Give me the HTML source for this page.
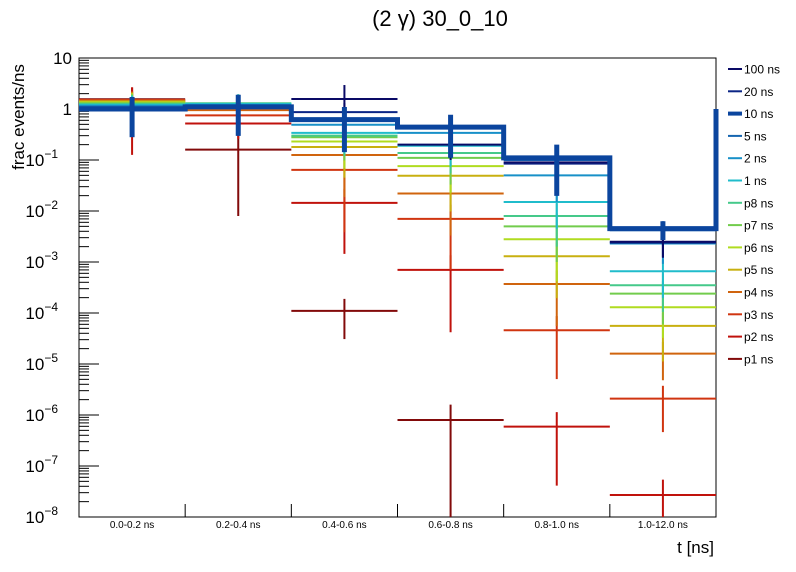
<!DOCTYPE html>
<html><head><meta charset="utf-8"><style>
body{margin:0;background:#fff;font-family:"Liberation Sans",sans-serif}
svg{display:block}
</style></head><body>
<svg id="chart" width="796" height="572" xmlns="http://www.w3.org/2000/svg">
<text x="440" y="26" font-size="22" text-anchor="middle">(2 γ) 30_0_10</text>
<text transform="translate(24,117) rotate(-90)" font-size="17" text-anchor="middle">frac events/ns</text>
<text x="714" y="553" font-size="17" text-anchor="end">t [ns]</text>
<g id="plot"></g>
</svg>
<script>
const categories = ["0.0-0.2 ns","0.2-0.4 ns","0.4-0.6 ns","0.6-0.8 ns","0.8-1.0 ns","1.0-12.0 ns"];
const seriesNames = ["100 ns","20 ns","10 ns","5 ns","2 ns","1 ns","p8 ns","p7 ns","p6 ns","p5 ns","p4 ns","p3 ns","p2 ns","p1 ns"];
const yTickExp = [1,0,-1,-2,-3,-4,-5,-6,-7,-8];
const v100 = [0.95,1.1,1.57,0.2,0.09,0.0025];
const v20 = [1.0,1.1,0.87,0.42,0.085,0.0024];
const v10 = [1.0,1.1,0.62,0.44,0.11,0.0045];
const v5 = [1.1,1.15,0.6,0.42,0.1,0.0042];
const v2 = [1.15,1.2,0.49,0.34,0.05,0.0023];
const v1 = [1.2,1.25,0.34,0.19,0.015,6.6e-4];
const vp8 = [1.25,1.3,0.3,0.137,0.008,3.5e-4];
const vp7 = [1.3,1.25,0.28,0.11,0.005,2.4e-4];
const vp6 = [1.35,1.2,0.23,0.076,0.0028,1.3e-4];
const vp5 = [1.4,1.1,0.18,0.049,0.0013,5.6e-5];
const vp4 = [1.45,0.95,0.125,0.022,3.7e-4,1.6e-5];
const vp3 = [1.5,0.75,0.064,0.007,4.6e-5,2.1e-6];
const vp2 = [1.4,0.52,0.0144,7e-4,5.9e-7,2.7e-8];
const vp1 = [1.55,0.16,1.1e-4,8e-7,null,null];
const r100 = [0.5,0.5,0.88,0.5,0.5,0.5];
const r20 = [0.5,0.5,0.5,0.5,0.5,0.5];
const r10 = [0.72,0.73,0.77,0.75,0.82,0.4];
const r5 = [0.5,0.5,0.6,0.6,0.6,0.5];
const r2 = [0.5,0.5,0.6,0.6,0.7,0.6];
const r1 = [0.5,0.55,0.6,0.6,0.7,0.7];
const rp8 = [0.5,0.5,0.6,0.6,0.75,0.7];
const rp7 = [0.5,0.5,0.65,0.7,0.8,0.75];
const rp6 = [0.5,0.5,0.7,0.7,0.85,0.75];
const rp5 = [0.5,0.5,0.75,0.8,0.85,0.8];
const rp4 = [0.5,0.5,0.85,0.85,0.85,0.7];
const rp3 = [0.5,0.5,0.94,0.9,0.89,0.78];
const rp2 = [0.91,0.5,0.9,0.94,0.93,1.0];
const rp1 = [0.7,0.95,0.72,1.0,0,0];
const overflow10 = 1.0;
const values = [v100,v20,v10,v5,v2,v1,vp8,vp7,vp6,vp5,vp4,vp3,vp2,vp1];
const relErr = [r100,r20,r10,r5,r2,r1,rp8,rp7,rp6,rp5,rp4,rp3,rp2,rp1];
const colors = ["#0a0a66","#0b2585","#0b459e","#1565b0","#1890c8","#20bccb","#45c98a","#72cc4c","#b0dc20","#c8b010","#d0640e","#d03510","#c0120c","#820a0a"];

const NS="http://www.w3.org/2000/svg";
const plot=document.getElementById('plot');
const X0=79,X1=716,Y0=58,Y1=517,LMAX=1,LMIN=-8;
const yS=v=>Y0+(LMAX-Math.log10(Math.max(v,1e-12)))/(LMAX-LMIN)*(Y1-Y0);
const bw=(X1-X0)/categories.length;
const xS=i=>X0+i*bw;
function mk(tag,attrs,parent){const e=document.createElementNS(NS,tag);for(const k in attrs)e.setAttribute(k,attrs[k]);(parent||plot).appendChild(e);return e;}

// frame
const frame=mk('rect',{x:X0,y:Y0,width:X1-X0,height:Y1-Y0,fill:'none',stroke:'#000','stroke-width':1});



// y ticks
yTickExp.forEach(e=>{
  const y=yS(Math.pow(10,e));
  const t=mk('line',{x1:X0,x2:X0+20,y1:y,y2:y,stroke:'#000'});
  
  
  const lab=mk('text',{x:72,y:y+6,'font-size':17,'text-anchor':'end'});
  
  
  if(e===1)lab.textContent='10';
  else if(e===0)lab.textContent='1';
  else{lab.setAttribute('x',60);lab.textContent='10';const s=mk('tspan',{dy:-8,'font-size':12},lab);s.textContent=String(e).replace('-','−');lab.setAttribute('x',72-s.textContent.length*7);}
  if(e>LMIN)for(let m=2;m<=9;m++){const yy=yS(m*Math.pow(10,e-1));const mt=mk('line',{x1:X0,x2:X0+10,y1:yy,y2:yy,stroke:'#000'});
    
    }
});
// x ticks/labels
categories.forEach((c,i)=>{
  if(i>0){const t=mk('line',{x1:xS(i),x2:xS(i),y1:Y1,y2:Y1-13,stroke:'#000'});
    
    }
  const l=mk('text',{x:xS(i)+bw/2,y:528,'font-size':10,'text-anchor':'middle'});
  
  
  l.textContent=c;
});

function drawSeries(s){
  const g=mk('g',{});
  
  
  const w=s===2?5:2;
  const vals=values[s];
  if(s===2){
    let d='M'+X0+','+yS(vals[0]);
    vals.forEach((v,i)=>{d+=' L'+xS(i)+','+yS(v)+' L'+xS(i+1)+','+yS(v);});
    d+=' L'+X1+','+yS(overflow10);
    const p=mk('path',{d:d,fill:'none',stroke:colors[s],'stroke-width':w},g);
    
    
  }
  vals.forEach((v,i)=>{
    if(v===null)return;
    const y=yS(v);
    if(s!==2){const h=mk('line',{x1:xS(i),x2:xS(i+1),y1:y,y2:y,stroke:colors[s],'stroke-width':w},g);
      
      }
    const err=v*relErr[s][i];
    if(err>0){
      const lo=v-err, yl=lo>0?Math.min(yS(lo),Y1):Y1;
      const yh=Math.max(yS(v+err),Y0);
      const e=mk('line',{x1:xS(i)+bw/2,x2:xS(i)+bw/2,y1:yh,y2:yl,stroke:colors[s],'stroke-width':w},g);
      
      
    }
  });
}
for(let s=values.length-1;s>=0;s--){if(s!==2)drawSeries(s);}
drawSeries(2);

// legend
const lg=mk('g',{});


seriesNames.forEach((n,i)=>{
  const y=69+i*22.3;
  const ent=mk('g',{},lg);
  
  
  mk('line',{x1:728,x2:742,y1:y,y2:y,stroke:colors[i],'stroke-width':i===2?4:2},ent);
  const t=mk('text',{x:744,y:y+4.5,'font-size':12},ent);
  t.textContent=n;
});
</script>
</body></html>
